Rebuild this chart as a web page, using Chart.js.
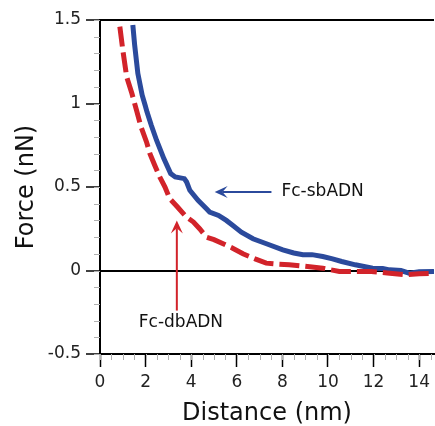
<!DOCTYPE html>
<html>
<head>
<meta charset="utf-8">
<script src="https://cdn.jsdelivr.net/npm/chart.js@4"></script>
<style>
  html, body { margin: 0; padding: 0; background: #fff; }
  #wrap { width: 435px; height: 426px; }
</style>
</head>
<body>
<div id="wrap"><canvas id="forceChart"></canvas></div>
<script>
// curve values (distance in nm, force in nN)
const sbDistance = [1.44, 1.52, 1.66, 1.85, 1.98, 2.06, 2.25, 2.48, 2.8, 3.1, 3.3, 3.7, 3.8, 3.94, 4.3, 4.67, 4.81, 5.2, 5.54, 5.83, 6.2, 6.71, 7.3, 8.02, 8.5, 8.9, 9.3, 9.77, 10.2, 10.6, 11.2, 11.96, 12.4, 12.7, 13.2, 13.56, 14.0, 14.65];
const sbForce = [1.47, 1.35, 1.18, 1.05, 0.99, 0.95, 0.87, 0.78, 0.67, 0.58, 0.56, 0.55, 0.53, 0.48, 0.42, 0.37, 0.35, 0.33, 0.30, 0.27, 0.23, 0.19, 0.16, 0.124, 0.105, 0.094, 0.095, 0.084, 0.07, 0.054, 0.034, 0.014, 0.012, 0.004, 0.0, -0.016, -0.008, -0.006];

const dbDistance = [0.87, 1.0, 1.17, 1.4, 1.6, 1.8, 2.04, 2.19, 2.4, 2.62, 2.85, 3.06, 3.4, 3.79, 4.1, 4.37, 4.67, 5.0, 5.4, 5.8, 6.27, 6.8, 7.29, 7.8, 8.3, 9.0, 9.77, 10.5, 11.2, 11.9, 12.6, 13.4, 14.0, 14.65];
const dbForce = [1.46, 1.32, 1.16, 1.06, 0.96, 0.86, 0.77, 0.70, 0.63, 0.56, 0.50, 0.43, 0.38, 0.32, 0.29, 0.25, 0.20, 0.185, 0.16, 0.135, 0.10, 0.07, 0.044, 0.038, 0.034, 0.025, 0.014, -0.006, -0.006, -0.006, -0.015, -0.026, -0.02, -0.016];

const xTicks = [0, 2, 4, 6, 8, 10, 12, 14];
const yTicks = [-0.5, 0, 0.5, 1, 1.5];

const blue = "#2b4a9c";
const red = "#d2232a";
const fontFamily = "'DejaVu Sans', Verdana, sans-serif";

function toPoints(xs, ys) {
    return xs.map((x, i) => ({ x: x, y: ys[i] }));
}

// minor ticks + arrows + curve labels
const extras = {
    id: "extras",
    afterDraw(chart) {
        const ctx = chart.ctx;
        const xs = chart.scales.x;
        const ys = chart.scales.y;
        const area = chart.chartArea;

        ctx.save();
        ctx.strokeStyle = "#b0b0b0";
        ctx.lineWidth = 1;
        for (let v = -0.5; v <= 1.5001; v += 0.1) {
            const y = Math.round(ys.getPixelForValue(v)) + 0.5;
            ctx.beginPath();
            ctx.moveTo(area.left - 6, y);
            ctx.lineTo(area.left, y);
            ctx.stroke();
        }
        for (let v = 0; v <= xs.max; v += 0.5) {
            const x = Math.round(xs.getPixelForValue(v)) + 0.5;
            ctx.beginPath();
            ctx.moveTo(x, area.bottom);
            ctx.lineTo(x, area.bottom + 6);
            ctx.stroke();
        }

        function arrow(x1, y1, x2, y2, color) {
            const px1 = xs.getPixelForValue(x1), py1 = ys.getPixelForValue(y1);
            const px2 = xs.getPixelForValue(x2), py2 = ys.getPixelForValue(y2);
            const ang = Math.atan2(py2 - py1, px2 - px1);
            const head = 13, half = 6;
            ctx.strokeStyle = color;
            ctx.fillStyle = color;
            ctx.lineWidth = 2;
            ctx.beginPath();
            ctx.moveTo(px1, py1);
            ctx.lineTo(px2 - Math.cos(ang) * head * 0.6, py2 - Math.sin(ang) * head * 0.6);
            ctx.stroke();
            ctx.beginPath();
            ctx.moveTo(px2, py2);
            ctx.lineTo(px2 - Math.cos(ang) * head - Math.sin(ang) * half, py2 - Math.sin(ang) * head + Math.cos(ang) * half);
            ctx.lineTo(px2 - Math.cos(ang) * head * 0.6, py2 - Math.sin(ang) * head * 0.6);
            ctx.lineTo(px2 - Math.cos(ang) * head + Math.sin(ang) * half, py2 - Math.sin(ang) * head - Math.cos(ang) * half);
            ctx.closePath();
            ctx.fill();
        }
        arrow(7.52, 0.47, 5.03, 0.47, blue);
        arrow(3.37, -0.24, 3.37, 0.30, red);

        ctx.fillStyle = "#111";
        ctx.font = "17px " + fontFamily;
        ctx.textBaseline = "middle";
        ctx.textAlign = "left";
        ctx.fillText("Fc-sbADN", xs.getPixelForValue(7.96), ys.getPixelForValue(0.47));
        ctx.textAlign = "center";
        ctx.fillText("Fc-dbADN", xs.getPixelForValue(3.55), ys.getPixelForValue(-0.31));
        ctx.restore();
    }
};

const chart = new Chart(document.getElementById("forceChart").getContext("2d"), {
    type: "line",
    data: {
        datasets: [
            {
                label: "Fc-dbADN",
                data: toPoints(dbDistance, dbForce),
                borderColor: red,
                borderWidth: 5,
                borderDash: [20, 6],
                pointRadius: 0,
                tension: 0,
                fill: false
            },
            {
                label: "Fc-sbADN",
                data: toPoints(sbDistance, sbForce),
                borderColor: blue,
                borderWidth: 5,
                pointRadius: 0,
                tension: 0,
                fill: false
            }
        ]
    },
    options: {
        responsive: true,
        maintainAspectRatio: false,
        animation: false,
        layout: { padding: { top: 20, right: 0, left: 0, bottom: 0 } },
        plugins: {
            legend: { display: false },
            tooltip: { enabled: false }
        },
        scales: {
            x: {
                type: "linear",
                min: 0,
                max: 14.65,
                afterBuildTicks(axis) {
                    axis.ticks = xTicks.map(v => ({ value: v }));
                },
                afterFit(axis) { axis.height = 72; },
                border: { color: "#000", width: 2 },
                grid: {
                    drawOnChartArea: false,
                    tickLength: 13,
                    tickColor: "#000",
                    tickWidth: 1.5
                },
                ticks: {
                    color: "#222",
                    padding: 5,
                    maxRotation: 0,
                    font: { family: fontFamily, size: 17 }
                },
                title: {
                    display: true,
                    text: "Distance (nm)",
                    color: "#111",
                    padding: { top: 0, bottom: 0 },
                    font: { family: fontFamily, size: 24, lineHeight: 1 }
                }
            },
            y: {
                type: "linear",
                min: -0.5,
                max: 1.5,
                afterBuildTicks(axis) {
                    axis.ticks = yTicks.map(v => ({ value: v }));
                },
                afterFit(axis) { axis.width = 100; },
                border: { color: "#000", width: 2 },
                grid: {
                    color: ctx => (ctx.tick && (ctx.tick.value === 0 || ctx.tick.value === 1.5)) ? "#000" : "rgba(0,0,0,0)",
                    lineWidth: 2,
                    tickLength: 14,
                    tickColor: "#000",
                    tickWidth: 1.5
                },
                ticks: {
                    color: "#222",
                    padding: 5,
                    font: { family: fontFamily, size: 17 },
                    callback: v => String(v)
                },
                title: {
                    display: true,
                    text: "Force (nN)",
                    color: "#111",
                    padding: { top: 12, bottom: 0 },
                    font: { family: fontFamily, size: 24 }
                }
            }
        }
    },
    plugins: [extras]
});
</script>
</body>
</html>
